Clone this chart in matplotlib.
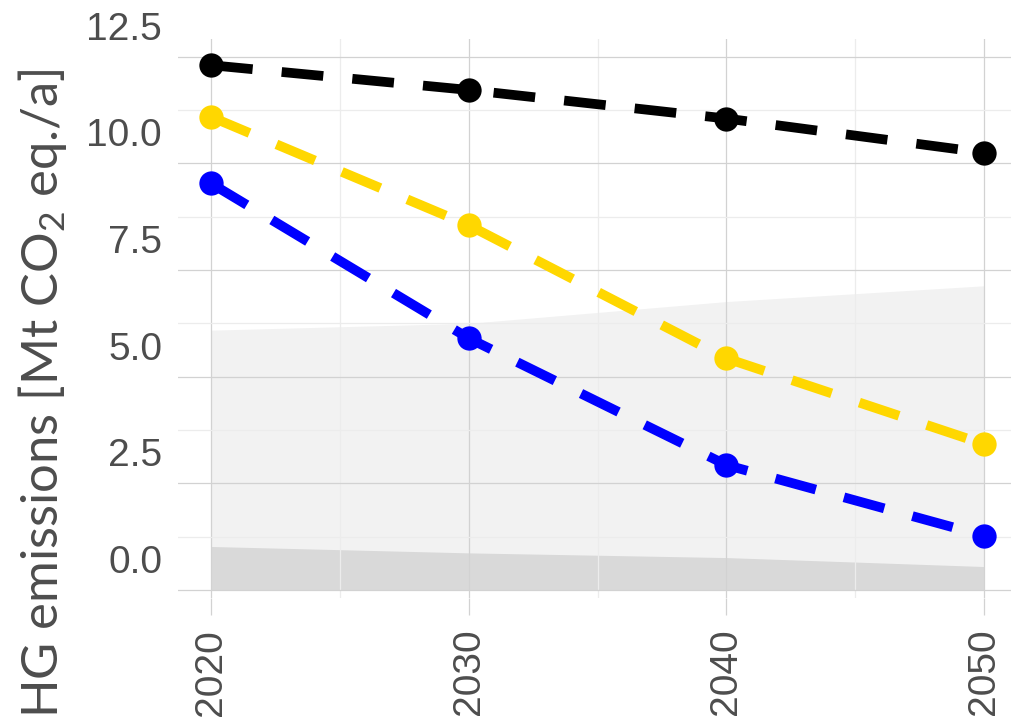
import matplotlib
matplotlib.use("Agg")
import matplotlib.pyplot as plt
import matplotlib.transforms as mtransforms

plt.rcParams['mathtext.fontset'] = 'custom'
plt.rcParams['mathtext.rm'] = 'Lato'
plt.rcParams['mathtext.default'] = 'regular'

years = [2020, 2030, 2040, 2050]
black_series = [12.30, 11.72, 11.05, 10.25]
yellow_series = [11.09, 8.55, 5.43, 3.42]
blue_series = [9.53, 5.90, 2.93, 1.27]
light_band_top = [6.09, 6.25, 6.76, 7.13]
dark_band_top = [1.02, 0.87, 0.76, 0.55]
x_ticks = [2020, 2030, 2040, 2050]
x_tick_labels = ["2020", "2030", "2040", "2050"]
y_ticks = [0.0, 2.5, 5.0, 7.5, 10.0, 12.5]
y_tick_labels = ["0.0", "2.5", "5.0", "7.5", "10.0", "12.5"]
y_label = "GHG emissions [Mt CO$_2$ eq./a]"

W, H = 1011, 718
fig = plt.figure(figsize=(W / 100, H / 100), dpi=100)
ax = fig.add_axes([178 / W, (H - 598) / H, 1 - 178 / W, (598 - 39) / H])

ax.set_xlim(2018.719, 2051.047)
ax.set_ylim(-0.1875, 12.914)

# areas
ax.fill_between(years, 0, light_band_top, color='#f2f2f2', lw=0, zorder=0.2)
ax.fill_between(years, 0, dark_band_top, color='#d9d9d9', lw=0, zorder=0.25)

# grid
ax.set_axisbelow(True)
ax.set_xticks(x_ticks)
ax.set_xticks([2025, 2035, 2045], minor=True)
ax.set_yticks(y_ticks)
ax.set_yticks([1.25, 3.75, 6.25, 8.75, 11.25], minor=True)
ax.grid(which='major', color='#d2d2d2', lw=0.9, zorder=0.5)
ax.grid(which='minor', color='#ececec', lw=0.9, zorder=0.5)
for g in ax.get_xgridlines() + ax.get_ygridlines():
    g.set_zorder(0.5)

for s in ax.spines.values():
    s.set_visible(False)

lw = 7.0
for vals, col in [(black_series, '#000000'), (yellow_series, '#FFD700'), (blue_series, '#0000FF')]:
    ax.plot(years, vals, color=col, lw=lw, dashes=(4.3, 3.0), dash_capstyle='butt',
            marker='o', markersize=17.5, markeredgewidth=0, zorder=3)

ax.set_xticklabels(x_tick_labels, rotation=90, fontsize=28, color='#4d4d4d',
                   family='Liberation Sans')
ax.set_yticklabels(y_tick_labels, fontsize=28, color='#4d4d4d', family='Liberation Sans')
ax.tick_params(axis='x', which='major', length=12.2, width=0.9, color='#d2d2d2', pad=10)
ax.tick_params(axis='x', which='minor', length=0)
ax.tick_params(axis='y', which='both', length=0, pad=11.5)

offset = mtransforms.ScaledTranslation(0, 31 / 100, fig.dpi_scale_trans)
for lab in ax.get_yticklabels():
    lab.set_transform(lab.get_transform() + offset)

fig.text(58 / W, (H - 68) / H, y_label, rotation=90, rotation_mode='anchor',
         ha='right', va='baseline', fontsize=36.5, color='#4d4d4d', family='Lato')

fig.savefig('out.png', dpi=100)
